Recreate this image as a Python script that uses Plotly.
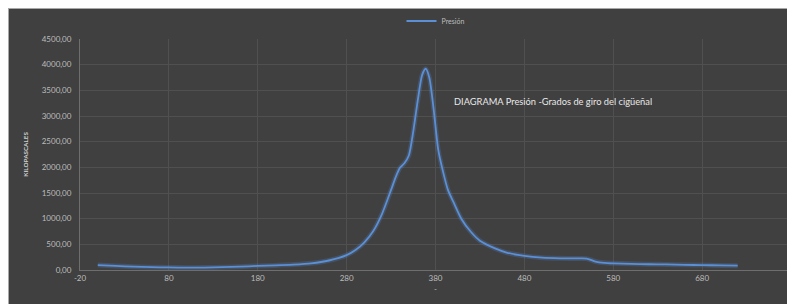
import plotly.graph_objects as go

# Crank angle (degrees) and pressure (kPa)
angle = [0, 20, 40, 60, 80, 100, 120, 140, 160, 180, 200, 220, 240, 260, 280, 290,
         300, 310, 320, 330, 335, 340, 345, 350, 355, 360, 365, 369, 373, 378, 383,
         388, 394, 400, 409, 420, 430, 447, 460, 480, 500, 520, 540, 550, 560, 570,
         580, 600, 620, 640, 660, 680, 700, 720]
pressure = [95, 80, 65, 55, 50, 45, 47, 55, 65, 80, 90, 105, 130, 185, 290, 390,
            540, 760, 1100, 1560, 1800, 1990, 2080, 2230, 2700, 3300, 3800, 3920, 3750, 3120, 2350,
            1950, 1560, 1330, 1000, 740, 570, 420, 340, 275, 240, 228, 225, 222, 165, 140,
            130, 120, 112, 108, 100, 95, 90, 85]

x_ticks = [-20, 80, 180, 280, 380, 480, 580, 680, 780]
y_ticks = [0, 500, 1000, 1500, 2000, 2500, 3000, 3500, 4000, 4500]
y_ticktext = ["0,00", "500,00", "1000,00", "1500,00", "2000,00", "2500,00",
              "3000,00", "3500,00", "4000,00", "4500,00"]

# page is 795x304; browser body margin offsets the figure by 8px (gives the white edge)
OFF = 8
W, H = 795 - OFF, 304 - OFF
PL, PR, PT, PB = 80, 791, 39, 270          # plot area in page pixels
L, R, T, B = PL - OFF, W - (PR - OFF), PT - OFF, H - (PB - OFF)
pw, ph = W - L - R, H - T - B

def px(x):   # page pixel -> paper x
    return (x - PL) / pw

def py(y):   # page pixel -> paper y
    return (PB - y) / ph

BG = "#404040"
GRID = "#505050"
TXT = "#bdbdbd"
LINE = "#5b8fd6"
FONT = "Lato"

fig = go.Figure()
fig.add_trace(go.Scatter(x=angle, y=pressure, mode="lines", showlegend=False,
                         hoverinfo="skip",
                         line=dict(color="rgba(91,143,214,0.22)", width=5,
                                   shape="spline", smoothing=0.7)))
fig.add_trace(go.Scatter(x=angle, y=pressure, mode="lines", name="Presión",
                         line=dict(color=LINE, width=1.8, shape="spline", smoothing=0.7)))

fig.update_layout(
    width=W, height=H,
    margin=dict(l=L, r=R, t=T, b=B, autoexpand=False),
    paper_bgcolor=BG, plot_bgcolor=BG,
    font=dict(family=FONT, color=TXT, size=8),
    legend=dict(orientation="h", x=0.5, xanchor="center", y=py(21), yanchor="middle",
                font=dict(size=7, color=TXT), bgcolor="rgba(0,0,0,0)",
                itemwidth=30),
    xaxis=dict(range=[-20, 780], tickvals=x_ticks, ticktext=[str(v) for v in x_ticks],
               showgrid=True, gridcolor=GRID, gridwidth=1, zeroline=False,
               showline=True, linecolor="#6e6e6e", linewidth=1, automargin=False,
               ticks="", tickfont=dict(size=8, color=TXT),
               title=dict(text="-", font=dict(size=8, color=TXT), standoff=4)),
    yaxis=dict(range=[0, 4500], tickvals=y_ticks, ticktext=y_ticktext,
               showgrid=True, gridcolor=GRID, gridwidth=1, zeroline=False,
               showline=True, linecolor="#6e6e6e", linewidth=1, automargin=False,
               ticks="", ticklabelstandoff=6, tickfont=dict(size=8, color=TXT),
               title=dict(text="<b>KILOPASCALES</b>", font=dict(size=6.3, color="#d0d0d0"),
                          standoff=12)),
)

fig.add_annotation(x=px(452), y=py(101.7), xref="paper", yref="paper",
                   xanchor="left", yanchor="middle", showarrow=False,
                   text="DIAGRAMA Presión -Grados de giro del cigüeñal",
                   font=dict(size=9.3, color="#e8e8e8", family=FONT))

# thin light border at the sheet edge
fig.add_shape(type="line", xref="paper", yref="paper", layer="above",
              x0=px(OFF), x1=px(800), y0=py(OFF + 0.5), y1=py(OFF + 0.5),
              line=dict(color="#a8a8a8", width=1))
fig.add_shape(type="line", xref="paper", yref="paper", layer="above",
              x0=px(OFF + 0.5), x1=px(OFF + 0.5), y0=py(OFF), y1=py(310),
              line=dict(color="#a8a8a8", width=1))

fig.write_html("out.html")
